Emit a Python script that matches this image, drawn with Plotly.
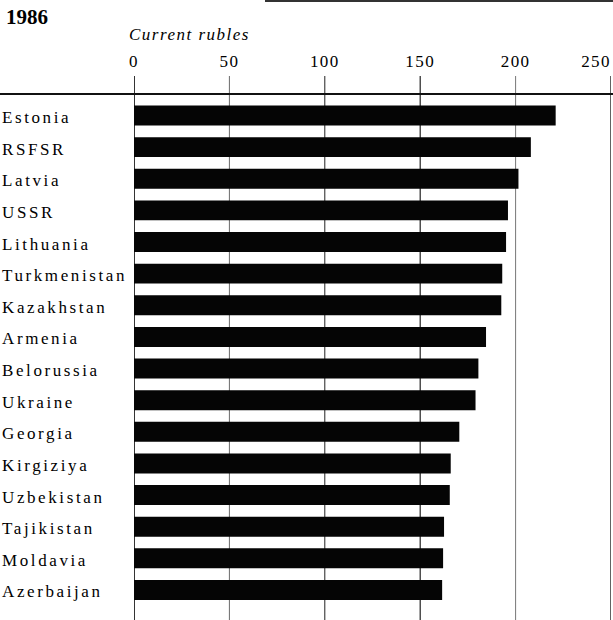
import plotly.graph_objects as go

# ---- data ----
republics = ["Estonia", "RSFSR", "Latvia", "USSR", "Lithuania", "Turkmenistan",
             "Kazakhstan", "Armenia", "Belorussia", "Ukraine", "Georgia",
             "Kirgiziya", "Uzbekistan", "Tajikistan", "Moldavia", "Azerbaijan"]
rubles = [221, 208, 201.5, 196, 195, 193, 192.5, 184.5, 180.5, 179,
          170.5, 166, 165.5, 162.5, 162, 161.5]
tick_values = [0, 50, 100, 150, 200, 250]
tick_labels = ["0", "50", "100", "150", "200", "250"]
year_label = "1986"
unit_label = "Current rubles"

W, H = 613, 620
ML, MR, MT, MB = 134, 2, 94, 0
PW = W - ML - MR
PH = H - MT - MB

def px_x(px):
    return (px - ML) / PW

def px_y(py):
    return 1 + (MT - py) / PH

SERIF = "Liberation Serif, Times New Roman, serif"

fig = go.Figure()
fig.add_trace(go.Bar(
    x=rubles, y=republics, orientation="h",
    marker=dict(color="#050505", line=dict(width=0)),
    width=0.63, hoverinfo="x+y",
))

shapes = []
# vertical gridlines (one per tick)
grid_style = {0: ("#000000", 1.6), 50: ("#6a6a6a", 1), 100: ("#222222", 1),
              150: ("#222222", 1.2), 200: ("#777777", 1), 250: ("#222222", 1.4)}
for tv in tick_values:
    c, w = grid_style.get(tv, ("#333333", 1))
    shapes.append(dict(type="line", xref="x", yref="paper", x0=tv, x1=tv,
                       y0=0, y1=px_y(76), line=dict(color=c, width=w), layer="below"))
# horizontal rule under the scale
shapes.append(dict(type="line", xref="paper", yref="paper", x0=px_x(0), x1=px_x(W + 2),
                   y0=px_y(94), y1=px_y(94), line=dict(color="#111111", width=2)))
# rule fragment at very top
shapes.append(dict(type="line", xref="paper", yref="paper", x0=px_x(265), x1=px_x(W + 2),
                   y0=px_y(1), y1=px_y(1), line=dict(color="#333333", width=2)))

annotations = []
for name in republics:
    annotations.append(dict(
        text=name, xref="paper", yref="y", x=px_x(0), y=name,
        xanchor="left", yanchor="middle", align="left", showarrow=False, yshift=-2,
        font=dict(family=SERIF, size=17, color="#000000"),
    ))
annotations.append(dict(
    text="<i>" + unit_label + "</i>", xref="paper", yref="paper",
    x=px_x(127), y=px_y(35), xanchor="left", yanchor="middle", align="left",
    showarrow=False,
    font=dict(family=SERIF, size=17, color="#000000"),
))

fig.update_layout(
    width=W, height=H,
    margin=dict(l=ML, r=MR, t=MT, b=MB, pad=0, autoexpand=False),
    paper_bgcolor="white", plot_bgcolor="white",
    showlegend=False,
    bargap=0.37,
    title=dict(text="<b>" + year_label + "</b>", x=6 / W, xanchor="left", xref="container",
               y=1 - 17 / H, yanchor="middle", yref="container",
               font=dict(family=SERIF, size=21, color="#000000")),
    xaxis=dict(range=[0, 250], side="top", tickvals=tick_values, ticktext=tick_labels,
               showgrid=False, zeroline=False, showline=False, automargin=False,
               ticks="", ticklabelstandoff=23, ticklabeloverflow="allow",
               tickfont=dict(family=SERIF, size=17, color="#000000"),
               fixedrange=True),
    yaxis=dict(type="category", categoryorder="array", categoryarray=republics,
               range=[15.95, -0.68], showticklabels=False, showgrid=False,
               zeroline=False, showline=False, ticks="", fixedrange=True,
               automargin=False),
    shapes=shapes,
    annotations=annotations,
)

post_js = """
document.body.style.margin = '0';
document.body.style.padding = '0';
var gd = document.querySelectorAll('.js-plotly-plot');
gd.forEach(function(g){
  g.querySelectorAll('.annotation-text').forEach(function(t){
    var it = t.innerHTML.indexOf('italic') >= 0 || t.querySelector('tspan[style*=italic]');
    t.style.letterSpacing = it ? '1.5px' : '2.6px';
  });
  var ticks = g.querySelectorAll('.xtick text');
  ticks.forEach(function(t){ t.style.letterSpacing = '1.4px'; });
  if (ticks.length) { ticks[ticks.length - 1].setAttribute('dx', '-15'); }
});
"""

fig.write_html("out.html", post_script=post_js, config={"displayModeBar": False})
